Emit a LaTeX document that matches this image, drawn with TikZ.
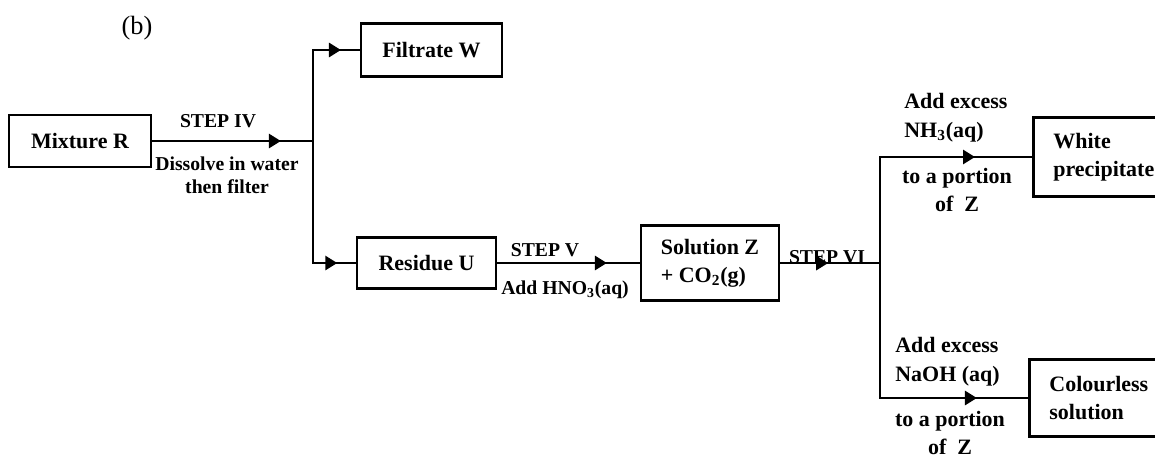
\documentclass[tikz,border=0pt]{standalone}
\usepackage{fontspec}
\setmainfont{Liberation Serif}
\usetikzlibrary{arrows.meta,decorations.markings}
\newcommand{\bxfont}{\fontsize{12.5}{16}\selectfont\bfseries}
\newcommand{\lbfont}{\fontsize{11.2}{13}\selectfont\bfseries}
\newcommand{\lrfont}{\fontsize{12.5}{16.4}\selectfont\bfseries}
\tikzset{box/.style={draw,line width=1.6pt,font=\bxfont,align=center,inner sep=0pt},
         ln/.style={line width=1.6pt,line cap=rect},
         mid/.style={postaction={decorate},decoration={markings,
           mark=at position #1 with {\arrow{Triangle[length=2.4mm,width=2.8mm]}}}},
         lbl/.style={font=\lbfont,align=center,inner sep=0pt},
         lbr/.style={font=\lrfont,align=center,inner sep=0pt}}
\begin{document}
\begin{tikzpicture}[x=0.02cm,y=-0.02cm]
\useasboundingbox (0,0) rectangle (1155,458);
\clip (0,0) rectangle (1155,458);
\node[font=\fontsize{15}{18}\selectfont] (b) at (137,28) {(b)};
% boxes
\node[box,minimum width=2.84cm,minimum height=1.04cm] (mix) at (80,141) {Mixture R};
\node[box,minimum width=2.82cm,minimum height=1.06cm] (filt) at (431.5,50) {Filtrate W};
\node[box,minimum width=2.78cm,minimum height=1.02cm] (res) at (426.5,263) {Residue U};
\node[box,align=left,minimum width=2.76cm,minimum height=1.5cm] (sol) at (710,263) {Solution Z\\+ CO\textsubscript{2}(g)};
\node[box,anchor=west,align=left,text width=2.4cm,inner xsep=0.4cm,minimum height=1.58cm] (wp) at (1032,157) {White\\precipitate};
\node[box,anchor=west,align=left,text width=2.4cm,inner xsep=0.4cm,minimum height=1.54cm] (cl) at (1028,398) {Colourless\\solution};
% labels
\node[lbl] (s4) at (218,121) {STEP IV};
\node[lbl] (d4) at (227,175) {Dissolve in water\\then filter};
\node[lbl] (s5) at (545,250) {STEP V};
\node[lbl] (a5) at (565,290) {Add HNO\textsubscript{3}(aq)};
\node[lbl] (s6) at (827,257) {STEP VI};
\node[lbr,anchor=west,align=left] (nh) at (904,118) {Add excess\\NH\textsubscript{3}(aq)};
\node[lbr] (p1) at (957,190) {to a portion\\of~~Z};
\node[lbr,anchor=west,align=left] (na) at (895,362) {Add excess\\NaOH (aq)};
\node[lbr] (p2) at (950,433) {to a portion\\of~~Z};
% connectors
\coordinate (j1) at (313,141);
\coordinate (j2) at (880,263);
\draw[ln,mid=0.8] (mix.east) -- (j1);
\draw[ln] (filt.west -| j1) -- (res.west -| j1);
\draw[ln,mid=0.6] (filt.west -| j1) -- (filt.west);
\draw[ln,mid=0.57] (res.west -| j1) -- (res.west);
\draw[ln,mid=0.77] (res.east) -- (sol.west);
\draw[ln,mid=0.48] (sol.east) -- (j2);
\draw[ln] (wp.west -| j2) -- (cl.west -| j2);
\draw[ln,mid=0.625] (wp.west -| j2) -- (wp.west);
\draw[ln,mid=0.655] (cl.west -| j2) -- (cl.west);
\end{tikzpicture}
\end{document}
